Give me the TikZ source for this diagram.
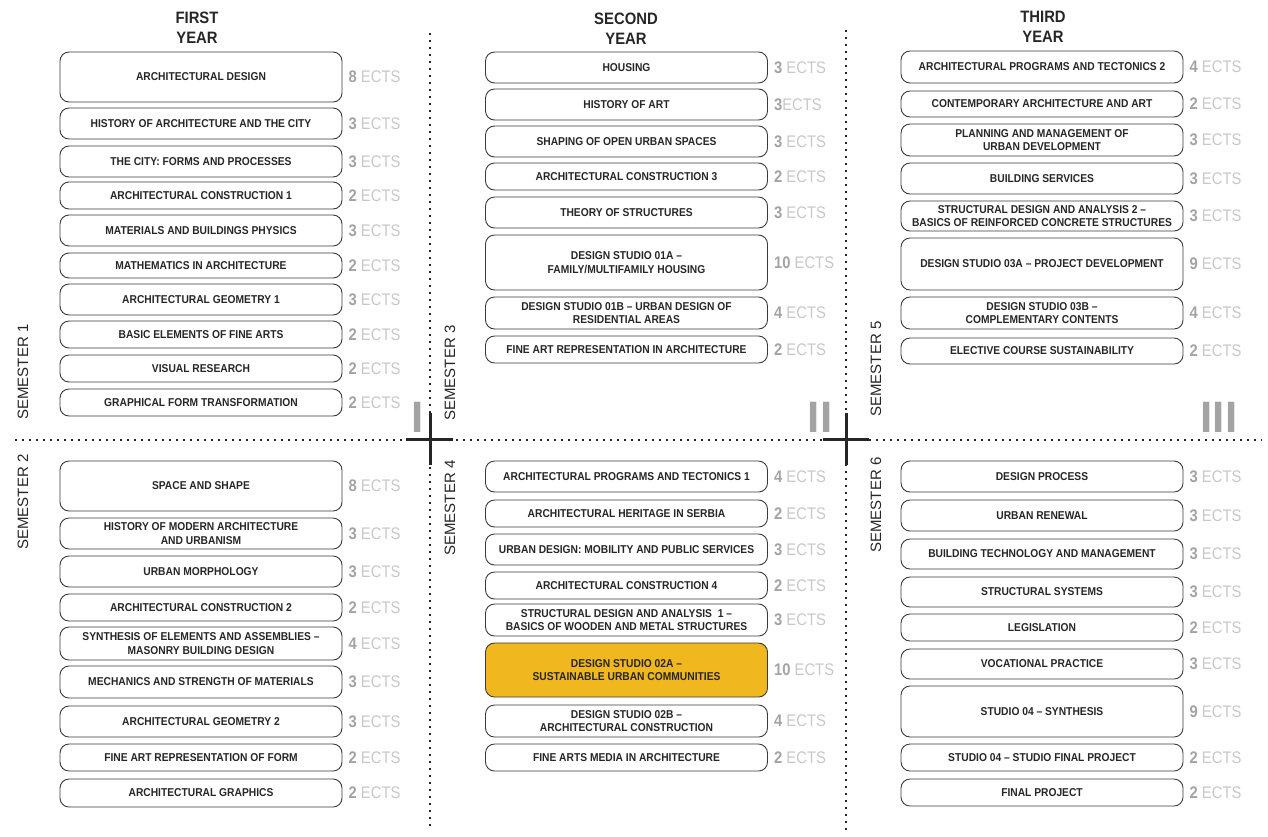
\documentclass[tikz,border=0pt]{standalone}
\usepackage{fontspec}
\setmainfont{Liberation Sans}
\newfontfamily\narrowfont[FakeStretch=0.9,Ligatures=TeX]{Liberation Sans}
\newfontfamily\ectsfont[FakeStretch=0.88,Ligatures=TeX]{Liberation Sans}
\usetikzlibrary{positioning}
\definecolor{boxline}{HTML}{3A3A3A}
\definecolor{numgray}{HTML}{A3A3A3}
\definecolor{ectsgray}{HTML}{C8C8C8}
\definecolor{studio}{HTML}{F0B71F}
\definecolor{textdark}{HTML}{262626}
\newcommand{\cred}[1]{{\color{numgray}\bfseries #1}}
\tikzset{
  course/.style={draw=boxline, line width=0.9pt, rounded corners=9pt, minimum width=282pt,
    inner sep=0pt, align=center, text=textdark, font=\narrowfont\fontsize{11.4}{13.5}\selectfont\bfseries},
  ects/.style={inner sep=0pt, text=ectsgray, font=\ectsfont\fontsize{16.8}{17}\selectfont},
  divider/.style={line width=1.6pt, dash pattern=on 1.6pt off 5.4pt, black!85},
  cross/.style={line width=3pt, black!85},
  yearhead/.style={align=center, text=textdark, font=\narrowfont\fontsize{16.5}{20}\selectfont\bfseries},
  semlabel/.style={rotate=90, text=textdark, font=\fontsize{15}{15}\selectfont},
  numeral/.style={anchor=base, inner sep=0pt, text=numgray, font=\fontsize{44}{44}\selectfont\bfseries}
}
\begin{document}
\begin{tikzpicture}[x=1pt,y=-1pt]
\useasboundingbox (0,0) rectangle (1268,836);
% grid of the three years
\draw[divider] (430,33) -- (430,830);
\draw[divider] (846,30) -- (846,830);
\draw[divider] (15,440) -- (1262,440);
\coordinate (x12) at (430,439);
\coordinate (x23) at (846,439);
\draw[cross] ([xshift=-24pt]x12) -- ([xshift=23pt]x12);
\draw[cross] ([yshift=26pt]x12) -- ([yshift=-26pt]x12);
\draw[cross] ([xshift=-23pt]x23) -- ([xshift=23pt]x23);
\draw[cross] ([yshift=26pt]x23) -- ([yshift=-26pt]x23);
\node[numeral] (n1) at (417.5,432) {I};
\node[numeral] (n2) at (820,432) {II};
\node[numeral] (n3) at (1219,432) {III};
% headers
\node[yearhead] (y1) at (197,28) {FIRST\\YEAR};
\node[yearhead] (y2) at (626,29) {SECOND\\YEAR};
\node[yearhead] (y3) at (1043,27) {THIRD\\YEAR};
\node[semlabel] (s1) at (23,372) {SEMESTER 1};
\node[semlabel] (s2) at (23,502) {SEMESTER 2};
\node[semlabel] (s3) at (450,373) {SEMESTER 3};
\node[semlabel] (s4) at (450,508) {SEMESTER 4};
\node[semlabel] (s5) at (876,369) {SEMESTER 5};
\node[semlabel] (s6) at (876,505) {SEMESTER 6};
% first year
\foreach \n/\y/\h/\t/\e in {
  ad/77/50/{ARCHITECTURAL DESIGN}/{\cred{8} ECTS},
  hac/123.5/31/{HISTORY OF ARCHITECTURE AND THE CITY}/{\cred{3} ECTS},
  cfp/161.5/31/{THE CITY: FORMS AND PROCESSES}/{\cred{3} ECTS},
  ac1/195.5/27/{ARCHITECTURAL CONSTRUCTION 1}/{\cred{2} ECTS},
  mbp/230.5/31/{MATERIALS AND BUILDINGS PHYSICS}/{\cred{3} ECTS},
  mia/265.5/25/{MATHEMATICS IN ARCHITECTURE}/{\cred{2} ECTS},
  ag1/299.5/31/{ARCHITECTURAL GEOMETRY 1}/{\cred{3} ECTS},
  bef/334.5/27/{BASIC ELEMENTS OF FINE ARTS}/{\cred{2} ECTS},
  vr/368.5/27/{VISUAL RESEARCH}/{\cred{2} ECTS},
  gft/402.5/27/{GRAPHICAL FORM TRANSFORMATION}/{\cred{2} ECTS},
  ss/486/50/{SPACE AND SHAPE}/{\cred{8} ECTS},
  hma/533.5/31/{HISTORY OF MODERN ARCHITECTURE\\AND URBANISM}/{\cred{3} ECTS},
  um/571.5/31/{URBAN MORPHOLOGY}/{\cred{3} ECTS},
  ac2/607.5/27/{ARCHITECTURAL CONSTRUCTION 2}/{\cred{2} ECTS},
  sea/643.5/33/{SYNTHESIS OF ELEMENTS AND ASSEMBLIES --\\MASONRY BUILDING DESIGN}/{\cred{4} ECTS},
  msm/682/32/{MECHANICS AND STRENGTH OF MATERIALS}/{\cred{3} ECTS},
  ag2/721.5/31/{ARCHITECTURAL GEOMETRY 2}/{\cred{3} ECTS},
  farf/757.5/27/{FINE ART REPRESENTATION OF FORM}/{\cred{2} ECTS},
  agr/793/28/{ARCHITECTURAL GRAPHICS}/{\cred{2} ECTS}}{
  \node[course, minimum height=\h] (\n) at (201,\y) {\t};
  \node[ects, right=6pt of \n.east] (\n-ects) {\e};
}
% second year
\foreach \n/\y/\h/\t/\e in {
  hou/67.5/31/{HOUSING}/{\cred{3} ECTS},
  hart/104.5/31/{HISTORY OF ART}/{\cred{3}ECTS},
  sous/141.5/31/{SHAPING OF OPEN URBAN SPACES}/{\cred{3} ECTS},
  ac3/176.5/27/{ARCHITECTURAL CONSTRUCTION 3}/{\cred{2} ECTS},
  ts/212.5/31/{THEORY OF STRUCTURES}/{\cred{3} ECTS},
  ds1a/262.5/55/{DESIGN STUDIO 01A --\\FAMILY/MULTIFAMILY HOUSING}/{\cred{10} ECTS},
  ds1b/313/32/{DESIGN STUDIO 01B -- URBAN DESIGN OF\\RESIDENTIAL AREAS}/{\cred{4} ECTS},
  fara/349.5/27/{FINE ART REPRESENTATION IN ARCHITECTURE}/{\cred{2} ECTS},
  apt1/476.5/31/{ARCHITECTURAL PROGRAMS AND TECTONICS 1}/{\cred{4} ECTS},
  ahs/513.5/27/{ARCHITECTURAL HERITAGE IN SERBIA}/{\cred{2} ECTS},
  udm/549.5/31/{URBAN DESIGN: MOBILITY AND PUBLIC SERVICES}/{\cred{3} ECTS},
  ac4/585.5/27/{ARCHITECTURAL CONSTRUCTION 4}/{\cred{2} ECTS},
  sda1/620/32/{STRUCTURAL DESIGN AND ANALYSIS\ \ 1 --\\BASICS OF WOODEN AND METAL STRUCTURES}/{\cred{3} ECTS},
  ds2b/721/32/{DESIGN STUDIO 02B --\\ARCHITECTURAL CONSTRUCTION}/{\cred{4} ECTS},
  fama/757.5/27/{FINE ARTS MEDIA IN ARCHITECTURE}/{\cred{2} ECTS}}{
  \node[course, minimum height=\h] (\n) at (626.5,\y) {\t};
  \node[ects, right=6pt of \n.east] (\n-ects) {\e};
}
\node[course, fill=studio, minimum height=54] (ds2a) at (626.5,670) {DESIGN STUDIO 02A --\\SUSTAINABLE URBAN COMMUNITIES};
\node[ects, right=6pt of ds2a.east] (ds2a-ects) {\cred{10} ECTS};
% third year
\foreach \n/\y/\h/\t/\e in {
  apt2/67/32/{ARCHITECTURAL PROGRAMS AND TECTONICS 2}/{\cred{4} ECTS},
  caa/104/26/{CONTEMPORARY ARCHITECTURE AND ART}/{\cred{2} ECTS},
  pmud/140/32/{PLANNING AND MANAGEMENT OF\\URBAN DEVELOPMENT}/{\cred{3} ECTS},
  bs/178.5/31/{BUILDING SERVICES}/{\cred{3} ECTS},
  sda2/216/30/{STRUCTURAL DESIGN AND ANALYSIS 2 --\\BASICS OF REINFORCED CONCRETE STRUCTURES}/{\cred{3} ECTS},
  ds3a/264/52/{DESIGN STUDIO 03A -- PROJECT DEVELOPMENT}/{\cred{9} ECTS},
  ds3b/313/32/{DESIGN STUDIO 03B --\\COMPLEMENTARY CONTENTS}/{\cred{4} ECTS},
  ecs/351/26/{ELECTIVE COURSE SUSTAINABILITY}/{\cred{2} ECTS},
  dp/476.5/31/{DESIGN PROCESS}/{\cred{3} ECTS},
  ur/515.5/31/{URBAN RENEWAL}/{\cred{3} ECTS},
  btm/554/30/{BUILDING TECHNOLOGY AND MANAGEMENT}/{\cred{3} ECTS},
  sys/592/30/{STRUCTURAL SYSTEMS}/{\cred{3} ECTS},
  leg/627.5/27/{LEGISLATION}/{\cred{2} ECTS},
  vp/664/30/{VOCATIONAL PRACTICE}/{\cred{3} ECTS},
  syn/711.5/51/{STUDIO 04 -- SYNTHESIS}/{\cred{9} ECTS},
  sfp/757.5/27/{STUDIO 04 -- STUDIO FINAL PROJECT}/{\cred{2} ECTS},
  fp/792.5/27/{FINAL PROJECT}/{\cred{2} ECTS}}{
  \node[course, minimum height=\h] (\n) at (1042,\y) {\t};
  \node[ects, right=6pt of \n.east] (\n-ects) {\e};
}
\end{tikzpicture}
\end{document}
